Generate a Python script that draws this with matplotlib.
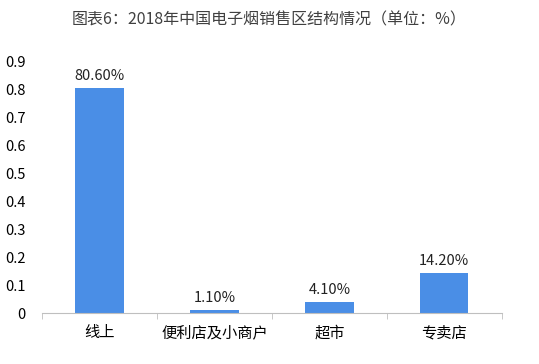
import matplotlib
matplotlib.use('Agg')
import matplotlib.pyplot as plt
import numpy as np

plt.rcParams['font.family'] = ['Noto Sans CJK SC', 'DejaVu Sans']

categories = ['线上', '便利店及小商户', '超市', '专卖店']
values = [0.806, 0.011, 0.041, 0.142]
labels = ['80.60%', '1.10%', '4.10%', '14.20%']
yticks = [0, 0.1, 0.2, 0.3, 0.4, 0.5, 0.6, 0.7, 0.8, 0.9]

fig = plt.figure(figsize=(5.39, 3.64), dpi=100)
ax = fig.add_axes([0.078, 0.140, 0.853, 0.690])

x = np.arange(len(categories))
ax.bar(x, values, width=0.42, color='#4a8ee6')
for xi, v, lab in zip(x, values, labels):
    ax.text(xi, v + 0.018, lab, ha='center', va='bottom', fontsize=10.5, color='#222222')

ax.set_xlim(-0.5, len(categories) - 0.5)
ax.set_ylim(0, 0.9)
ax.set_yticks(yticks)
ax.set_yticklabels(['0' if t == 0 else f'{t:.1f}' for t in yticks], fontsize=10.5)
ax.set_xticks(x)
ax.set_xticklabels(categories, fontsize=11)
ax.tick_params(axis='x', length=0, pad=8)
ax.tick_params(axis='y', length=0, pad=12)

# minor ticks between categories on x axis
ax.set_xticks(np.arange(-0.5, len(categories)), minor=True)
ax.tick_params(axis='x', which='minor', length=4, color='#bfbfbf')

for s in ['top', 'right', 'left']:
    ax.spines[s].set_visible(False)
ax.spines['bottom'].set_color('#bfbfbf')

fig.text(0.5, 0.945, '图表6：2018年中国电子烟销售区结构情况（单位：%）', ha='center', va='center',
         fontsize=11.5, color='#404040')

fig.savefig('out.png', dpi=100)
